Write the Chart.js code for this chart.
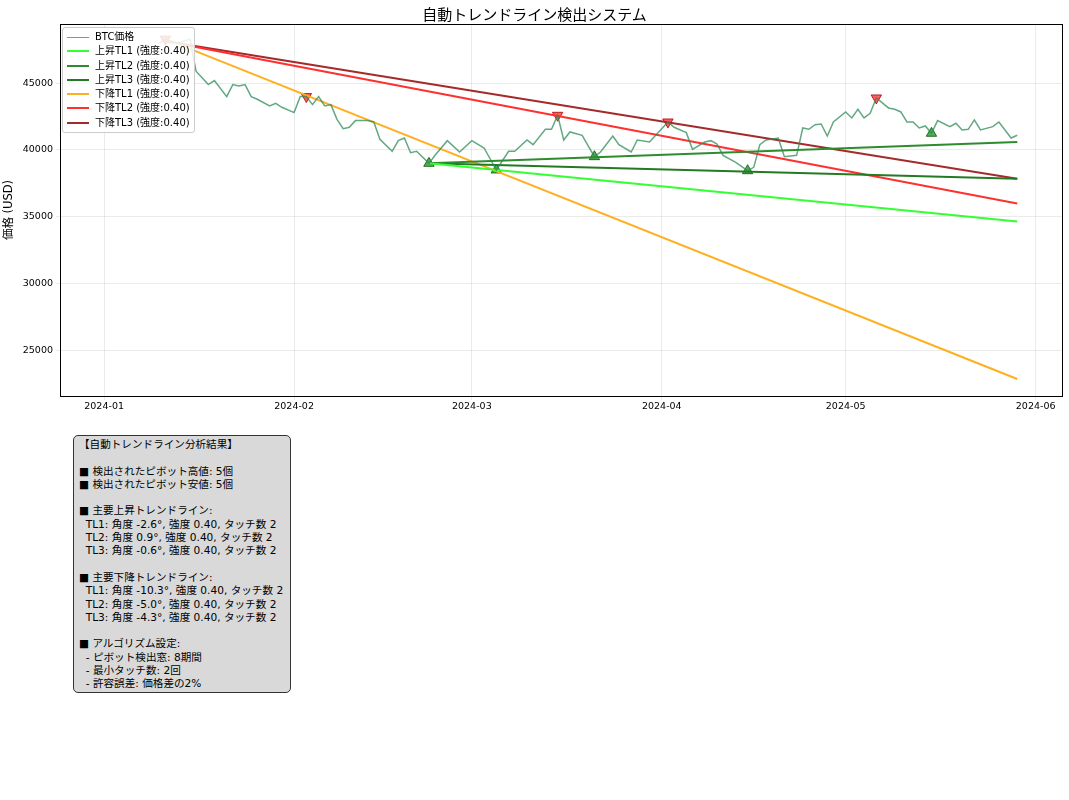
<!DOCTYPE html>
<html>
<head>
<meta charset="utf-8">
<script src="https://cdn.jsdelivr.net/npm/chart.js@4"></script>
<style>
  body { margin: 0; background: #fff; font-family: 'DejaVu Sans', 'Noto Sans CJK JP', sans-serif; }
  #wrap { position: absolute; left: 0; top: 0; width: 1069px; height: 418px; }
  #title { position: absolute; left: 0; width: 1069px; top: 3px; text-align: center; font-size: 15px; color: #000; }
  #legend { position: absolute; left: 62px; top: 27px; background: rgba(255,255,255,0.85); border: 1px solid #ccc; border-radius: 3px; padding: 2px 4px 2px 4px; font-size: 10px; line-height: 14.3px; }
  #legend .sw { display: inline-block; width: 22px; height: 0; vertical-align: middle; margin-right: 6px; }
  #box { position: absolute; left: 73px; top: 435px; width: 218px; height: 258px; background: #d9d9d9; border: 1px solid #333; border-radius: 5px; box-sizing: border-box; padding: 2px 5px; font-size: 10.6px; line-height: 13.3px; white-space: pre; color: #000; }
</style>
</head>
<body>
<div id="wrap"><canvas id="chart"></canvas></div>
<div id="title">自動トレンドライン検出システム</div>
<div id="legend"></div>
<div id="box">【自動トレンドライン分析結果】

■ 検出されたピボット高値: 5個
■ 検出されたピボット安値: 5個

■ 主要上昇トレンドライン:
  TL1: 角度 -2.6°, 強度 0.40, タッチ数 2
  TL2: 角度 0.9°, 強度 0.40, タッチ数 2
  TL3: 角度 -0.6°, 強度 0.40, タッチ数 2

■ 主要下降トレンドライン:
  TL1: 角度 -10.3°, 強度 0.40, タッチ数 2
  TL2: 角度 -5.0°, 強度 0.40, タッチ数 2
  TL3: 角度 -4.3°, 強度 0.40, タッチ数 2

■ アルゴリズム設定:
  - ピボット検出窓: 8期間
  - 最小タッチ数: 2回
  - 許容誤差: 価格差の2%</div>
<script>
// days since 2024-01-01
const priceDays = [9,10,12,14,15,17,18,20,21,22,23,24,25,27,28,29,31,32,33,34,35,36,37,38,39,40,41,43,44,45,47,48,49,50,51,53,54,56,58,60,62,64,66,67,69,70,72,73,74,75,76,78,80,81,83,84,86,87,89,90,92,93,95,96,98,99,100,101,103,105,106,107,108,110,111,113,114,115,116,117,118,119,121,122,123,124,125,126,128,129,130,131,132,133,134,135,136,138,139,140,141,142,143,145,146,148,149];
const priceValues = [48000,48300,48000,48300,45900,44900,45200,44000,44900,44800,44900,44000,43800,43300,43500,43200,42800,44000,44000,43400,44000,43300,43400,42300,41600,41700,42200,42200,42100,40800,39900,40700,40900,39800,39900,39000,39600,40700,39850,40700,40150,38500,39900,39900,40750,40400,41550,41550,42600,40750,41350,41100,39500,39850,41050,40400,39850,40750,40600,41100,42100,41700,41300,40050,40600,40700,40450,39600,39100,38450,38700,40400,40750,40900,39500,39600,41650,41550,41900,41950,41050,42100,42850,42400,43050,42400,42750,43900,43150,43050,42850,42100,42100,41650,41800,41250,42200,41750,42000,41500,41550,42250,41500,41750,42100,40900,41100];

const highDays = [10,33,74,92,126];
const highValues = [48300,44000,42600,42100,43900];
const lowDays = [53,64,80,105,135];
const lowValues = [39000,38500,39500,38450,41250];

const lineNames = ['上昇TL1 (強度:0.40)','上昇TL2 (強度:0.40)','上昇TL3 (強度:0.40)','下降TL1 (強度:0.40)','下降TL2 (強度:0.40)','下降TL3 (強度:0.40)'];
const lineColors = ['#33ff33','#2e8b2e','#237a23','#ffb020','#ff3030','#a52a2a'];
const lineDays = [[53,149],[53,149],[53,149],[10,149],[10,149],[10,149]];
const lineValues = [[39000,34650],[39000,40600],[39000,37850],[48300,22850],[48150,36000],[48150,37850]];

const monthTicks = [0,31,60,91,121,152];
const monthLabels = ['2024-01','2024-02','2024-03','2024-04','2024-05','2024-06'];
const yTicks = [25000,30000,35000,40000,45000];

const FONT = "'DejaVu Sans', 'Noto Sans CJK JP', sans-serif";
Chart.defaults.font.family = FONT;
Chart.defaults.color = '#000';

const pts = (xs, ys) => xs.map((x, i) => ({ x: x, y: ys[i] }));

const datasets = [{
  label: 'BTC価格', data: pts(priceDays, priceValues), borderColor: 'rgba(46,139,87,0.75)',
  borderWidth: 1.5, pointRadius: 0, tension: 0
}];
lineNames.forEach((n, i) => {
  datasets.push({ label: n, data: pts(lineDays[i], lineValues[i]), borderColor: lineColors[i], borderWidth: 2, pointRadius: 0 });
});
datasets.push({ label: 'highs', data: pts(highDays, highValues), showLine: false, pointStyle: 'triangle', rotation: 180,
  pointRadius: 6, backgroundColor: 'rgba(255,40,40,0.75)', borderColor: 'rgba(170,0,0,0.8)', borderWidth: 1 });
datasets.push({ label: 'lows', data: pts(lowDays, lowValues), showLine: false, pointStyle: 'triangle',
  pointRadius: 6, backgroundColor: 'rgba(40,150,40,0.8)', borderColor: 'rgba(0,90,0,0.8)', borderWidth: 1 });

const frame = {
  id: 'frame',
  afterDraw(c) {
    const a = c.chartArea, ctx = c.ctx;
    ctx.save(); ctx.strokeStyle = '#000'; ctx.lineWidth = 1;
    ctx.strokeRect(a.left + 0.5, a.top + 0.5, a.width, a.height);
    ctx.restore();
  }
};

new Chart(document.getElementById('chart'), {
  type: 'line',
  data: { datasets },
  plugins: [frame],
  options: {
    responsive: true, maintainAspectRatio: false, animation: false,
    layout: { padding: { top: 24, right: 7, left: 0, bottom: 0 } },
    plugins: { legend: { display: false }, tooltip: { enabled: false } },
    scales: {
      x: {
        type: 'linear', min: -7.2, max: 156.3,
        afterBuildTicks: s => { s.ticks = monthTicks.map(v => ({ value: v })); },
        afterFit: s => { s.height = 22; },
        ticks: { font: { size: 9.5 }, maxRotation: 0, padding: 1, callback: (v) => monthLabels[monthTicks.indexOf(v)] },
        grid: { color: 'rgba(0,0,0,0.08)', tickLength: 4 }, border: { color: '#000' }
      },
      y: {
        min: 21575, max: 49437,
        afterBuildTicks: s => { s.ticks = yTicks.map(v => ({ value: v })); },
        afterFit: s => { s.width = 60; },
        ticks: { font: { size: 9.5 }, callback: v => String(v) },
        title: { display: true, text: '価格 (USD)', font: { size: 11.5 }, padding: 2 },
        grid: { color: 'rgba(0,0,0,0.08)', tickLength: 4 }, border: { color: '#000' }
      }
    }
  }
});

const leg = document.getElementById('legend');
const legNames = ['BTC価格'].concat(lineNames);
const legColors = ['rgba(46,139,87,0.75)'].concat(lineColors);
legNames.forEach((n, i) => {
  const row = document.createElement('div');
  row.innerHTML = '<span class="sw" style="border-top:' + (i === 0 ? 1.5 : 2) + 'px solid ' + legColors[i] + '"></span>' + n;
  leg.appendChild(row);
});
</script>
</body>
</html>
